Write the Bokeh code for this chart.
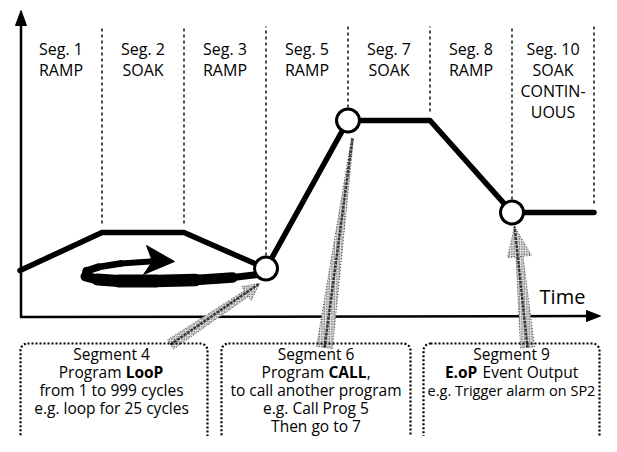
from math import hypot
from bokeh.plotting import figure
from bokeh.models import Range1d, BoxAnnotation
from bokeh.core.properties import value
from bokeh.embed import file_html
from bokeh.resources import INLINE

# ---------------- data ----------------
boundary_t = [0, 1, 2, 3, 4, 5, 6, 7]            # segment boundaries (time units)
setpoint = [46, 84, 84, 48, 196, 196, 104, 104]  # setpoint at each boundary
event_idx = [3, 4, 6]                            # boundaries marked with a circle
seg_names = ["Seg. 1", "Seg. 2", "Seg. 3", "Seg. 5", "Seg. 7", "Seg. 8", "Seg. 10"]
seg_types = ["RAMP", "SOAK", "RAMP", "RAMP", "SOAK", "RAMP", "SOAK"]
seg10_extra = ["CONTIN-", "UOUS"]
time_label = "Time"

# box texts: each line is a list of (run, bold); runs joined by a space
box1_lines = [[("Segment 4", False)],
              [("Program", False), ("LooP", True)],
              [("from 1 to 999 cycles", False)],
              [("e.g. loop for 25 cycles", False)]]
box2_lines = [[("Segment 6", False)],
              [("Program", False), ("CALL", True), (",", False)],
              [("to call another program", False)],
              [("e.g. Call Prog 5", False)],
              [("Then go to 7", False)]]
box3_lines = [[("Segment 9", False)],
              [("E.oP", True), ("Event Output", False)],
              [("e.g. Trigger alarm on SP2", False)]]

# ---------------- layout (pixels) ----------------
W, H = 601, 436
X0_PAGE, DX = 19.5, 82.0
Y0_PAGE = 316.0


def tx(xp):
    return (xp - X0_PAGE) / DX


def vy(yp):
    return Y0_PAGE - yp


box_x = [(20, 207), (221, 410), (423, 599)]
box_cx = [111, 315.5, 511]
box_top = 343
box_rows = [353.5, 371.5, 389.5, 407.5, 425]
FS = 15.5

# loop arrow centre line: (x, y, stroke width)
loop_path = [(257, 274, 5), (232, 277, 9), (195, 279.5, 12), (155, 280.5, 13),
             (118, 280.5, 13), (97, 279, 11), (85, 276, 9), (86, 270.5, 7.5),
             (98, 266.5, 7), (120, 263, 6.5), (150, 261, 6)]
loop_head = [(146, 245), (174, 261), (143, 274), (152, 261)]

# spray arrows: start, start width, end, end width, head tip, head width
spray = [((170, 344), 11, (246, 293), 7, (259, 283), 17),
         ((324, 347), 16, (352, 138), 2, None, 0),
         ((527, 347), 14, (519, 256), 7, (514, 226), 24)]

p = figure(width=W, height=H,
           x_range=Range1d(tx(0), tx(W)), y_range=Range1d(vy(H), vy(0)),
           output_backend="svg", toolbar_location=None, min_border=0,
           x_axis_location=None, y_axis_location=None)
p.grid.visible = False
p.outline_line_color = None
p.background_fill_color = "white"
p.border_fill_color = "white"

FONT = value("Open Sans")

# dotted boxes
for (l, r) in box_x:
    p.add_layout(BoxAnnotation(left=tx(l), right=tx(r), top=vy(box_top), bottom=vy(520),
                               fill_color=None, fill_alpha=0, line_color="black",
                               line_alpha=1.0, line_width=2.2,
                               line_dash="2 2", border_radius=7))

# axes (glyphs, so the spray arrows can sit on top)
p.segment(x0=[tx(20.5), tx(19.5)], y0=[vy(317), vy(316.5)],
          x1=[tx(20.5), tx(588)], y1=[vy(22), vy(315.6)],
          line_color="black", line_width=2.5)
p.patches([[tx(15), tx(20.5), tx(26)], [tx(586), tx(600), tx(586)]],
          [[vy(25), vy(10), vy(25)], [vy(310), vy(315.5), vy(321)]],
          fill_color="black", line_color="black", line_width=1)


def taper(a, wa, b, wb):
    dx, dy = b[0] - a[0], b[1] - a[1]
    L = hypot(dx, dy)
    nx, ny = -dy / L, dx / L
    pts = [(a[0] + nx * wa / 2, a[1] + ny * wa / 2), (b[0] + nx * wb / 2, b[1] + ny * wb / 2),
           (b[0] - nx * wb / 2, b[1] - ny * wb / 2), (a[0] - nx * wa / 2, a[1] - ny * wa / 2)]
    return pts, (nx, ny)


sx, sy, cxs, cys = [], [], [], []
for a, wa, b, wb, tip, hw in spray:
    pts, (nx, ny) = taper(a, wa, b, wb)
    sx.append([tx(q[0]) for q in pts]); sy.append([vy(q[1]) for q in pts])
    end = tip if tip is not None else b
    cxs.append([tx(a[0]), tx(end[0])]); cys.append([vy(a[1]), vy(end[1])])
    if tip is not None:
        hp = [(b[0] + nx * hw / 2, b[1] + ny * hw / 2), tip, (b[0] - nx * hw / 2, b[1] - ny * hw / 2)]
        sx.append([tx(q[0]) for q in hp]); sy.append([vy(q[1]) for q in hp])
p.patches(sx, sy, fill_color="#e0e0e0", fill_alpha=1.0, hatch_pattern=".",
          hatch_scale=2.5, hatch_color="#111111", hatch_alpha=0.9, line_color="#444444",
          line_width=1, line_dash="1 2")
p.multi_line(cxs, cys, line_color="#222222", line_width=2.5, line_dash="3 1", line_alpha=0.85)

# dashed segment boundaries
gaps = [13 if i in event_idx else 9 for i in range(len(boundary_t))]
p.segment(x0=boundary_t[1:], y0=[s + g for s, g in zip(setpoint[1:], gaps[1:])],
          x1=boundary_t[1:], y1=[vy(26)] * (len(boundary_t) - 1),
          line_color="black", line_width=1.4, line_dash="3 3")

# loop arrow
lx0 = [tx(a[0]) for a in loop_path[:-1]]
ly0 = [vy(a[1]) for a in loop_path[:-1]]
lx1 = [tx(a[0]) for a in loop_path[1:]]
ly1 = [vy(a[1]) for a in loop_path[1:]]
lw = [(a[2] + b[2]) / 2 for a, b in zip(loop_path[:-1], loop_path[1:])]
p.segment(x0=lx0, y0=ly0, x1=lx1, y1=ly1, line_width=lw, line_color="black", line_cap="round")
p.patch([tx(q[0]) for q in loop_head], [vy(q[1]) for q in loop_head],
        fill_color="black", line_color="black", line_width=1)

# profile
p.line(boundary_t, setpoint, line_width=5.5, line_color="black", line_join="round", line_cap="round")
p.scatter([boundary_t[i] for i in event_idx], [setpoint[i] for i in event_idx], size=23,
          fill_color="white", line_color="black", line_width=3)

# segment labels
mids = [(a + b) / 2 for a, b in zip(boundary_t[:-1], boundary_t[1:])]
LFS = "16px"
p.text(x=mids, y=[vy(48)] * len(mids), text=seg_names, text_font=FONT, text_font_size=LFS,
       text_align="center", text_baseline="middle", text_color="black")
p.text(x=mids, y=[vy(69.5)] * len(mids), text=seg_types, text_font=FONT, text_font_size=LFS,
       text_align="center", text_baseline="middle", text_color="black")
p.text(x=[mids[-1]] * 2, y=[vy(90.5), vy(111.5)], text=seg10_extra, text_font=FONT,
       text_font_size=LFS, text_align="center", text_baseline="middle", text_color="black")

p.text(x=[tx(562)], y=[vy(296)], text=[time_label], text_font=FONT, text_font_size="20px",
       text_align="center", text_baseline="middle", text_color="black")

# box texts
REG = {'a': .556, 'b': .613, 'c': .479, 'd': .613, 'e': .561, 'f': .336, 'g': .546, 'h': .614,
       'i': .258, 'j': .258, 'k': .525, 'l': .258, 'm': .933, 'n': .614, 'o': .602, 'p': .613,
       'q': .613, 'r': .408, 's': .477, 't': .352, 'u': .614, 'v': .5, 'w': .778, 'x': .524,
       'y': .5, 'z': .465, 'A': .633, 'C': .631, 'E': .556, 'L': .519, 'O': .779, 'P': .602,
       'S': .549, 'T': .553, ' ': .26, '.': .266, ',': .245}


def wid(s, bold, fs):
    w = sum(REG.get(ch, .57) for ch in s) * fs
    return w * (1.07 if bold else 1.0)


for (bl, br), cx, lines in zip(box_x, box_cx, [box1_lines, box2_lines, box3_lines]):
    avail = br - bl - 8
    for row, runs in zip(box_rows, lines):
        full = sum(wid(s, b, FS) for s, b in runs) + REG[' '] * FS * (len(runs) - 1)
        fs = min(FS, FS * avail / full)
        fstr = f"{fs:.1f}px"
        if len(runs) == 1:
            p.text(x=[tx(cx)], y=[vy(row)], text=[runs[0][0]], text_font=FONT,
                   text_font_size=fstr, text_align="center", text_baseline="middle",
                   text_font_style="bold" if runs[0][1] else "normal")
            continue
        widths = []
        for k, (s, b) in enumerate(runs):
            sp = 0 if (k == 0 or s == ",") else REG[' '] * fs
            widths.append((sp, wid(s, b, fs)))
        total = sum(a + b for a, b in widths)
        x = cx - total / 2
        for (s, b), (sp, w) in zip(runs, widths):
            x += sp
            p.text(x=[tx(x)], y=[vy(row)], text=[s], text_font=FONT, text_font_size=fstr,
                   text_align="left", text_baseline="middle",
                   text_font_style="bold" if b else "normal")
            x += w

open("out.html", "w").write(file_html(p, INLINE))
